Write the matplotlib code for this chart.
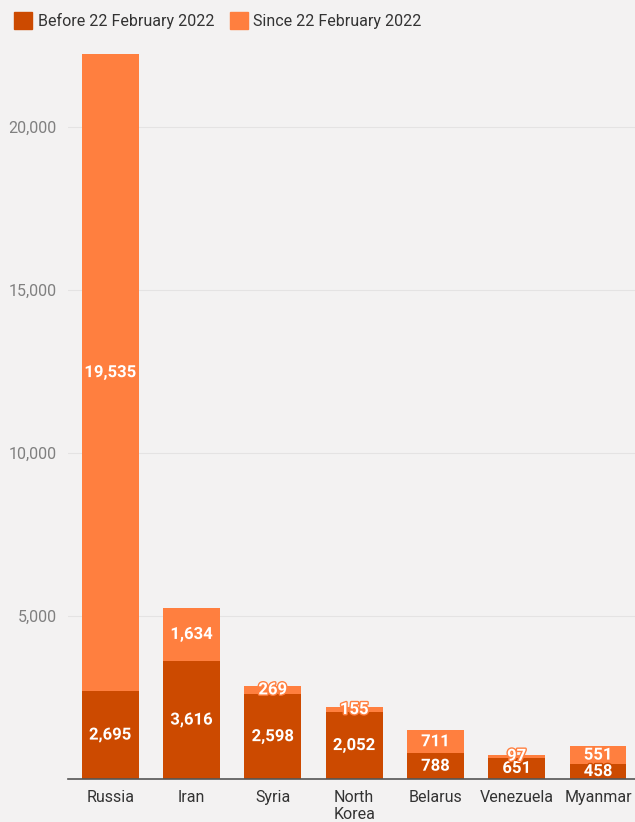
import matplotlib.pyplot as plt
import matplotlib.patheffects as pe
from matplotlib.patches import Patch

plt.rcParams.update({
    "font.family": ["Roboto", "DejaVu Sans"],
    "font.size": 11.5,
})

countries = ["Russia", "Iran", "Syria", "North\nKorea", "Belarus", "Venezuela", "Myanmar"]
before = [2695, 3616, 2598, 2052, 788, 651, 458]
since = [19535, 1634, 269, 155, 711, 97, 551]

c_before = "#cc4a00"
c_since = "#ff7f3f"
bg = "#f3f2f2"

fig = plt.figure(figsize=(6.35, 8.22), dpi=100, facecolor=bg)
ax = fig.add_axes([0.107, 0.0523, 0.893, 0.8966], facecolor=bg)

x = range(len(countries))
ax.bar(x, before, width=0.7, color=c_before, zorder=2)
ax.bar(x, since, width=0.7, bottom=before, color=c_since, zorder=2)

for i in x:
    for val, base, col in [(before[i], 0, c_before), (since[i], before[i], c_since)]:
        ax.text(i, base + val / 2, f"{val:,}", ha="center", va="center",
                color="white", fontsize=12, fontweight="bold", zorder=3,
                path_effects=[pe.withStroke(linewidth=2, foreground=col)])

ax.set_xlim(-0.52, 6.455)
ax.set_ylim(0, 22600)
ax.set_yticks([5000, 10000, 15000, 20000])
ax.set_yticklabels(["5,000", "10,000", "15,000", "20,000"])
ax.yaxis.grid(True, color="#e4e3e3", linewidth=0.8, zorder=0)
ax.set_xticks(list(x))
ax.set_xticklabels(countries, color="#333333", fontsize=11.5, linespacing=1.15)
ax.tick_params(axis="y", length=0, colors="#808080", labelsize=11.5, pad=8)
ax.tick_params(axis="x", length=0, pad=8)
for s in ["top", "right", "left"]:
    ax.spines[s].set_visible(False)
ax.spines["bottom"].set_color("#555555")
ax.spines["bottom"].set_linewidth(1.2)
ax.spines["bottom"].set_zorder(4)

handles = [Patch(color=c_before, label="Before 22 February 2022"),
           Patch(color=c_since, label="Since 22 February 2022")]
fig.legend(handles=handles, loc="upper left", bbox_to_anchor=(0.0, 1.003),
           ncol=2, frameon=False, fontsize=11.5, handlelength=1.1, handleheight=1.3,
           handletextpad=0.35, columnspacing=1.0, labelcolor="#333333")

fig.savefig("out.png", dpi=100, facecolor=bg)
